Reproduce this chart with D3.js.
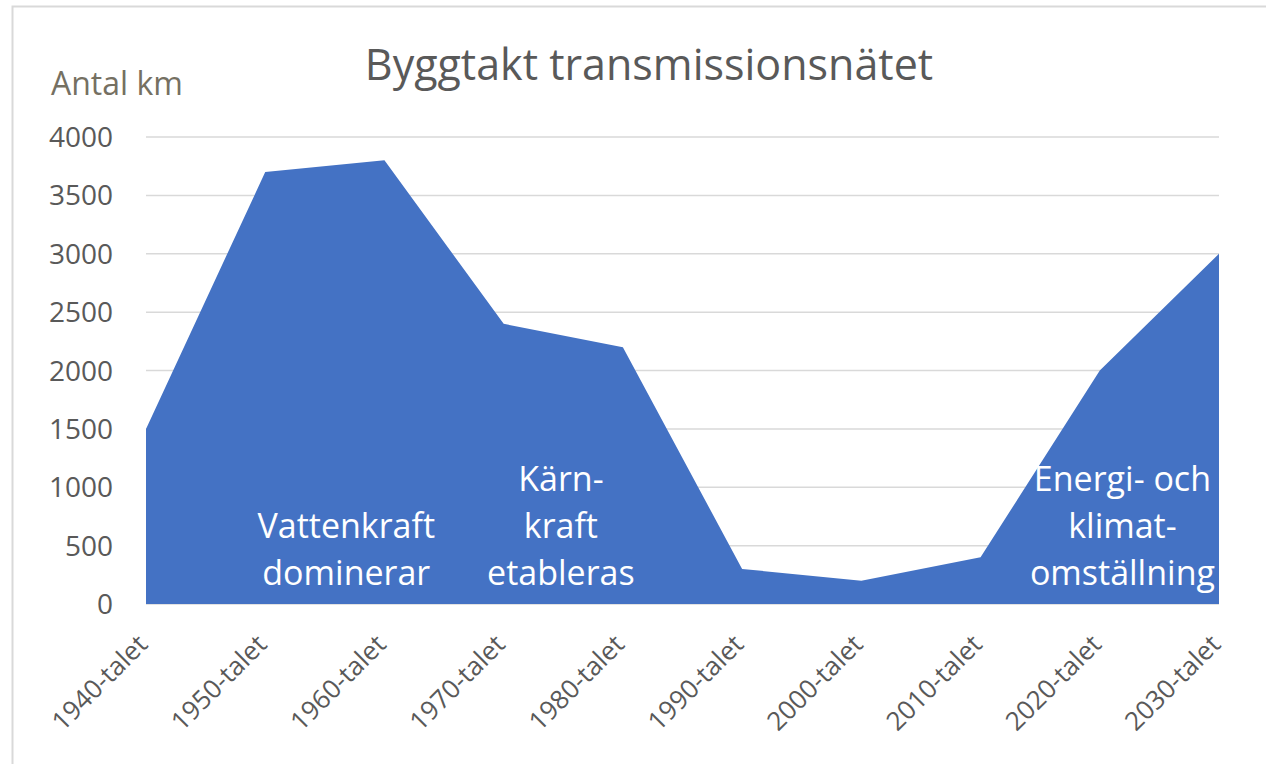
<!DOCTYPE html>
<html>
<head>
<meta charset="utf-8">
<script src="https://cdn.jsdelivr.net/npm/d3@7"></script>
<style>
  body { margin: 0; background: #fff; }
  text { font-family: "Open Sans", "Noto Sans", sans-serif; }
</style>
</head>
<body>
<div id="chart"></div>
<script>
// data
var decades = ["1940-talet", "1950-talet", "1960-talet", "1970-talet", "1980-talet",
               "1990-talet", "2000-talet", "2010-talet", "2020-talet", "2030-talet"];
var km = [1500, 3700, 3800, 2400, 2200, 300, 200, 400, 2000, 3000];
var yTicks = [0, 500, 1000, 1500, 2000, 2500, 3000, 3500, 4000];
var notes = [
    { at: 1.68, lines: ["Vattenkraft", "dominerar"] },
    { at: 3.48, lines: ["Kärn-", "kraft", "etableras"] },
    { at: 8.19, lines: ["Energi- och", "klimat-", "omställning"] }
];

var width = 1266, height = 764;
var plotLeft = 146, plotRight = 1219, plotTop = 137, plotBottom = 604;

var svg = d3.select("#chart").append("svg")
    .attr("width", width)
    .attr("height", height);

// outer frame
svg.append("rect")
    .attr("x", 12.5).attr("y", 6.5)
    .attr("width", width).attr("height", height)
    .attr("fill", "none")
    .attr("stroke", "#d9d9d9")
    .attr("stroke-width", 2);

var x = d3.scalePoint().domain(decades).range([plotLeft, plotRight]);
var y = d3.scaleLinear().domain([0, 4000]).range([plotBottom, plotTop]);

// gridlines
svg.append("g").selectAll("line")
    .data(yTicks)
    .enter().append("line")
    .attr("x1", plotLeft).attr("x2", plotRight)
    .attr("y1", function(d) { return y(d); })
    .attr("y2", function(d) { return y(d); })
    .attr("stroke", "#d9d9d9")
    .attr("stroke-width", 1.5);

// area
var area = d3.area()
    .x(function(d, i) { return x(decades[i]); })
    .y0(y(0))
    .y1(function(d) { return y(d); });

svg.append("path")
    .datum(km)
    .attr("d", area)
    .attr("fill", "#4472c4");

// y axis labels
svg.append("g").selectAll("text")
    .data(yTicks)
    .enter().append("text")
    .attr("x", 113)
    .attr("y", function(d) { return y(d); })
    .attr("dy", "0.36em")
    .attr("text-anchor", "end")
    .attr("font-size", 28)
    .attr("fill", "#595959")
    .text(function(d) { return d; });

// x axis labels, rotated
svg.append("g").selectAll("text")
    .data(decades)
    .enter().append("text")
    .attr("transform", function(d) { return "translate(" + (x(d) + 3) + "," + 646 + ") rotate(-45)"; })
    .attr("text-anchor", "end")
    .attr("font-size", 26)
    .attr("fill", "#595959")
    .text(function(d) { return d; });

// annotations inside the area
notes.forEach(function(n) {
    var cx = plotLeft + (plotRight - plotLeft) * n.at / (decades.length - 1);
    var t = svg.append("text")
        .attr("text-anchor", "middle")
        .attr("font-size", 34)
        .attr("fill", "#ffffff");
    var n0 = n.lines.length;
    n.lines.forEach(function(line, i) {
        t.append("tspan")
            .attr("x", cx)
            .attr("y", 585 - (n0 - 1 - i) * 47)
            .text(line);
    });
});

// title and axis title
svg.append("text")
    .attr("x", 649).attr("y", 80)
    .attr("text-anchor", "middle")
    .attr("font-size", 43)
    .attr("fill", "#595959")
    .text("Byggtakt transmissionsnätet");

svg.append("text")
    .attr("x", 51).attr("y", 95)
    .attr("font-size", 32)
    .attr("fill", "#757062")
    .text("Antal km");
</script>
</body>
</html>
